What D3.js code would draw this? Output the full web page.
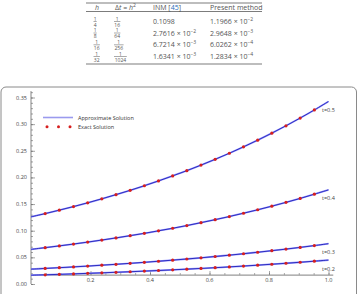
<!DOCTYPE html>
<html>
<head>
<meta charset="utf-8">
<script src="https://cdn.jsdelivr.net/npm/d3@7"></script>
<style>
  body { margin: 0; background: #fff; }
  svg text { font-family: "Open Sans", "DejaVu Sans", sans-serif; }
</style>
</head>
<body>
<svg id="chart" width="359" height="294"></svg>
<script>
// table rows
var hNum = ["1", "1", "1", "1"];
var hDen = ["4", "8", "16", "32"];
var dtDen = ["16", "64", "256", "1024"];
var inmMant = ["0.1098", "2.7616", "6.7214", "1.6341"];
var inmExp = ["", "\u22122", "\u22123", "\u22123"];
var presMant = ["1.1966", "2.9648", "6.0262", "1.2834"];
var presExp = ["\u22122", "\u22123", "\u22124", "\u22124"];

// chart data: x grid (i/21), curves
var xs = [0, 0.0476, 0.0952, 0.1429, 0.1905, 0.2381, 0.2857, 0.3333, 0.3810, 0.4286, 0.4762,
          0.5238, 0.5714, 0.6190, 0.6667, 0.7143, 0.7619, 0.8095, 0.8571, 0.9048, 0.9524, 1];
var u05 = [0.1260, 0.1321, 0.1386, 0.1453, 0.1524, 0.1599, 0.1677, 0.1758, 0.1844, 0.1934, 0.2029,
           0.2127, 0.2231, 0.2340, 0.2454, 0.2574, 0.2699, 0.2831, 0.2969, 0.3114, 0.3266, 0.3425];
var u04 = [0.0650, 0.0682, 0.0715, 0.0750, 0.0786, 0.0825, 0.0865, 0.0907, 0.0951, 0.0998, 0.1046,
           0.1097, 0.1151, 0.1207, 0.1266, 0.1328, 0.1393, 0.1460, 0.1532, 0.1606, 0.1685, 0.1767];
var u03 = [0.0278, 0.0292, 0.0306, 0.0321, 0.0336, 0.0353, 0.0370, 0.0388, 0.0407, 0.0427, 0.0448,
           0.0469, 0.0492, 0.0516, 0.0541, 0.0568, 0.0596, 0.0625, 0.0655, 0.0687, 0.0721, 0.0756];
var u02 = [0.0165, 0.0173, 0.0181, 0.0190, 0.0200, 0.0209, 0.0220, 0.0230, 0.0242, 0.0253, 0.0266,
           0.0279, 0.0292, 0.0306, 0.0321, 0.0337, 0.0353, 0.0371, 0.0389, 0.0408, 0.0428, 0.0449];
var series = [u05, u04, u03, u02];
var curveLabels = ["t=0.5", "t=0.4", "t=0.3", "t=0.2"];
var xTicks = [0.2, 0.4, 0.6, 0.8, 1.0];
var yTicks = [0, 0.05, 0.1, 0.15, 0.2, 0.25, 0.3, 0.35];
var xAxisAt = 0.0168;

var svg = d3.select("#chart");
var txt = "#555";

// ---- table ----
var tbl = svg.append("g");
[3, 11.5, 64].forEach(function(y) {
  tbl.append("line").attr("x1", 86).attr("x2", 262).attr("y1", y).attr("y2", y)
    .attr("stroke", "#444").attr("stroke-width", 0.7);
});
var hdr = tbl.append("g").attr("font-size", 7).attr("fill", txt);
hdr.append("text").attr("x", 95).attr("y", 9.5).attr("font-style", "italic").text("h");
var dtH = hdr.append("text").attr("x", 115).attr("y", 9.5);
dtH.append("tspan").text("\u0394");
dtH.append("tspan").attr("font-style", "italic").text("t");
dtH.append("tspan").text(" = ");
dtH.append("tspan").attr("font-style", "italic").text("h");
dtH.append("tspan").attr("font-size", 5).attr("dy", -3).text("2");
var inmH = hdr.append("text").attr("x", 153).attr("y", 9.5);
inmH.append("tspan").text("INM [");
inmH.append("tspan").attr("fill", "#2a6ebb").text("45");
inmH.append("tspan").text("]");
hdr.append("text").attr("x", 210).attr("y", 9.5).text("Present method");

var rowY = [21.5, 33, 44.8, 56.5];
function fraction(g, x, cy, num, den) {
  var w = den.length * 3.2;
  g.append("text").attr("x", x + w / 2).attr("y", cy - 1).attr("text-anchor", "middle")
    .attr("font-size", 5).attr("fill", txt).text(num);
  g.append("line").attr("x1", x).attr("x2", x + w).attr("y1", cy).attr("y2", cy)
    .attr("stroke", txt).attr("stroke-width", 0.5);
  g.append("text").attr("x", x + w / 2).attr("y", cy + 5).attr("text-anchor", "middle")
    .attr("font-size", 5).attr("fill", txt).text(den);
}
function sci(g, x, cy, mant, ex) {
  var t = g.append("text").attr("x", x).attr("y", cy + 2.5).attr("font-size", 7).attr("fill", txt);
  t.append("tspan").text(mant);
  if (ex) {
    t.append("tspan").text(" \u00d7 10");
    t.append("tspan").attr("font-size", 5).attr("dy", -3).text(ex);
  }
}
rowY.forEach(function(cy, i) {
  fraction(tbl, 93.5, cy, hNum[i], hDen[i]);
  fraction(tbl, 114, cy, "1", dtDen[i]);
  sci(tbl, 153, cy, inmMant[i], inmExp[i]);
  sci(tbl, 210, cy, presMant[i], presExp[i]);
});

// ---- chart frame ----
svg.append("rect").attr("x", 1).attr("y", 87).attr("width", 355.5).attr("height", 230)
  .attr("rx", 5).attr("fill", "none").attr("stroke", "#8a8a8a").attr("stroke-width", 1);

var x = d3.scaleLinear().domain([0, 1]).range([31, 328.5]);
var y = d3.scaleLinear().domain([0, 0.35]).range([284, 97.5]);

// y axis
var yAx = svg.append("g").attr("transform", "translate(" + x(0) + ",0)");
yAx.call(d3.axisRight(y).tickValues(d3.range(0, 0.3601, 0.01)).tickSize(2).tickFormat(""));
yAx.call(function(g) {
  g.append("g").call(d3.axisRight(y).tickValues(yTicks).tickSize(4).tickFormat(""));
});
yAx.selectAll("path.domain").remove();
yAx.append("line").attr("y1", y(0)).attr("y2", y(0.362)).attr("stroke", "#666").attr("stroke-width", 0.8);
yAx.selectAll(".tick line").attr("stroke", "#666").attr("stroke-width", 0.6);
yAx.selectAll(".ylab").data(yTicks).enter().append("text").attr("class", "ylab")
  .attr("x", -4).attr("y", function(d) { return y(d) + 2; })
  .attr("text-anchor", "end").attr("font-size", 5.5).attr("fill", "#444")
  .text(d3.format(".2f"));

// x axis
var xAx = svg.append("g").attr("transform", "translate(0," + y(xAxisAt) + ")");
xAx.call(d3.axisBottom(x).tickValues(d3.range(0.05, 1.001, 0.05)).tickSize(-2).tickFormat(""));
xAx.append("g").call(d3.axisBottom(x).tickValues(xTicks).tickSize(-4).tickFormat(""));
xAx.selectAll("path.domain").remove();
xAx.append("line").attr("x1", x(0)).attr("x2", x(1.016)).attr("stroke", "#999").attr("stroke-width", 1.2);
xAx.selectAll(".tick line").attr("stroke", "#666").attr("stroke-width", 0.6);
xAx.selectAll(".xlab").data(xTicks).enter().append("text").attr("class", "xlab")
  .attr("x", function(d) { return x(d); }).attr("y", 7)
  .attr("text-anchor", "middle").attr("font-size", 5.5).attr("fill", "#444")
  .text(d3.format(".1f"));

// curves
var line = d3.line().x(function(d, i) { return x(xs[i]); }).y(function(d) { return y(d); })
  .curve(d3.curveCatmullRom);
var plot = svg.append("g");
series.forEach(function(s, k) {
  plot.append("path").attr("d", line(s)).attr("fill", "none")
    .attr("stroke", "#9a9aff").attr("stroke-width", 1.8);
  plot.append("path").attr("d", line(s)).attr("fill", "none")
    .attr("stroke", "#2020b8").attr("stroke-width", 0.9);
  plot.selectAll(null).data(s.slice(1, 21)).enter().append("circle")
    .attr("cx", function(d, i) { return x(xs[i + 1]); })
    .attr("cy", function(d) { return y(d); })
    .attr("r", 1.6).attr("fill", "#d61f1f");
  plot.append("text").attr("x", x(1) - 6.5).attr("y", y(s[21]) + 10.5)
    .attr("font-size", 5.5).attr("fill", "#444").text(curveLabels[k]);
});

// legend
var lg = svg.append("g");
lg.append("line").attr("x1", 43).attr("x2", 73).attr("y1", 117.5).attr("y2", 117.5)
  .attr("stroke", "#9a9aee").attr("stroke-width", 1.6);
lg.append("text").attr("x", 78).attr("y", 119.5).attr("font-size", 5.5).attr("fill", "#333")
  .text("Approximate Solution");
[47, 58.5, 70].forEach(function(cx) {
  lg.append("circle").attr("cx", cx).attr("cy", 126.8).attr("r", 1.5).attr("fill", "#d61f1f");
});
lg.append("text").attr("x", 78).attr("y", 129).attr("font-size", 5.5).attr("fill", "#333")
  .text("Exact Solution");
</script>
</body>
</html>
